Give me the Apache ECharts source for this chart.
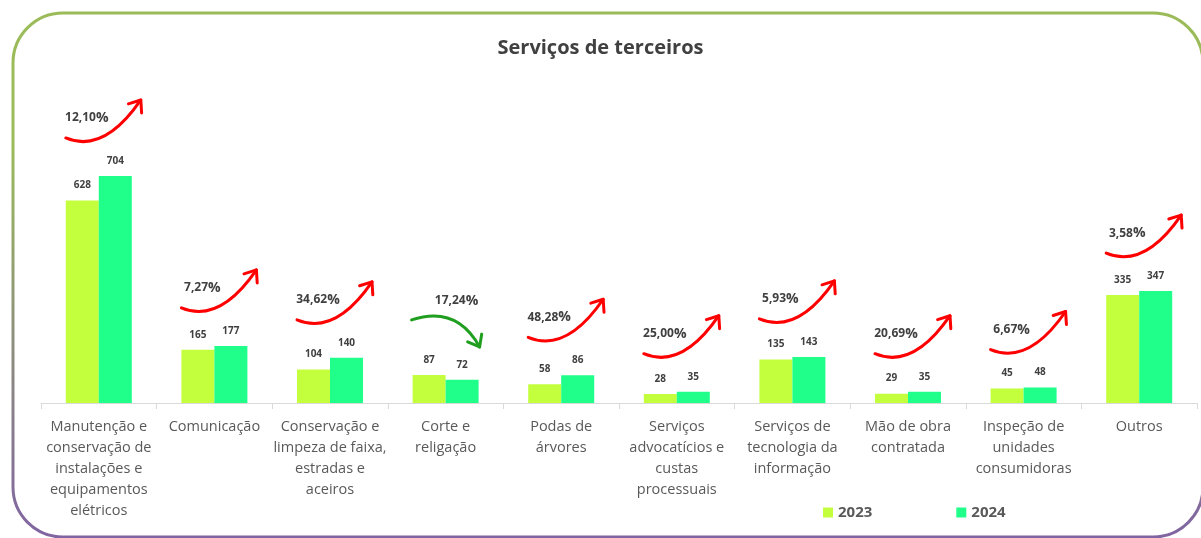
<!DOCTYPE html>
<html>
<head>
<meta charset="utf-8">
<script src="https://cdn.jsdelivr.net/npm/echarts@6/dist/echarts.min.js"></script>
<style>
  html, body { margin: 0; padding: 0; background: #fff; }
  #app { width: 1201px; height: 538px; }
</style>
</head>
<body>
<div id="app"></div>
<script>
const categories = [
  'Manutenção e\nconservação de\ninstalações e\nequipamentos\nelétricos',
  'Comunicação',
  'Conservação e\nlimpeza de faixa,\nestradas e\naceiros',
  'Corte e\nreligação',
  'Podas de\nárvores',
  'Serviços\nadvocatícios e\ncustas\nprocessuais',
  'Serviços de\ntecnologia da\ninformação',
  'Mão de obra\ncontratada',
  'Inspeção de\nunidades\nconsumidoras',
  'Outros'
]
const values2023 = [628, 165, 104, 87, 58, 28, 135, 29, 45, 335]
const values2024 = [704, 177, 140, 72, 86, 35, 143, 35, 48, 347]

const app = document.getElementById('app')
const chart = echarts.init(app)

const textDark = '#404040'
const textGray = '#595959'

// variation arrows: one item per category, built from the two series
const arrowData = categories.map((c, i) => [i, Math.max(values2023[i], values2024[i]), values2024[i] / values2023[i] - 1])

function fmtPct (v) {
  return (Math.abs(v) * 100).toFixed(2).replace('.', ',')
}

function arrowHead (ex, ey, dx, dy, color) {
  const len = Math.sqrt(dx * dx + dy * dy)
  const bx = -dx / len
  const by = -dy / len
  const a = 38 * Math.PI / 180
  const L = 13
  const p1 = [ex + L * (bx * Math.cos(a) - by * Math.sin(a)), ey + L * (bx * Math.sin(a) + by * Math.cos(a))]
  const p2 = [ex + L * (bx * Math.cos(-a) - by * Math.sin(-a)), ey + L * (bx * Math.sin(-a) + by * Math.cos(-a))]
  return {
    type: 'polyline',
    shape: { points: [p1, [ex, ey], p2] },
    style: { stroke: color, lineWidth: 3, fill: null, lineJoin: 'round', lineCap: 'round' }
  }
}

function renderArrow (params, api) {
  const top = api.coord([api.value(0), api.value(1)])
  const change = api.value(2)
  const up = change >= 0
  const color = up ? '#FF0000' : '#1F9E1F'
  let sx, sy, cp, end, tx, ty
  if (up) {
    sx = top[0] - 33
    sy = top[1] - 38
    cp = [sx + 38, sy + 16]
    end = [sx + 75, sy - 38]
    tx = sx + 21
    ty = sy - 20
  } else {
    sx = top[0] - 34
    sy = top[1] - 55
    cp = [sx + 45, sy - 15]
    end = [sx + 68, sy + 27]
    tx = sx + 45
    ty = sy - 19
  }
  return {
    type: 'group',
    children: [
      {
        type: 'bezierCurve',
        shape: { x1: sx, y1: sy, cpx1: cp[0], cpy1: cp[1], x2: end[0], y2: end[1] },
        style: { stroke: color, lineWidth: 3, fill: null, lineCap: 'round' }
      },
      arrowHead(end[0], end[1], end[0] - cp[0], end[1] - cp[1], color),
      {
        type: 'text',
        x: tx,
        y: ty,
        style: {
          text: '{n|' + fmtPct(change) + '}{p|%}',
          align: 'center',
          verticalAlign: 'middle',
          rich: {
            n: { fontSize: 12, fontWeight: 'bold', fill: textDark, fontFamily: 'Open Sans' },
            p: { fontSize: 14, fontWeight: 'bold', fill: textDark, fontFamily: 'Open Sans' }
          }
        }
      }
    ]
  }
}

const barLabel = {
  show: true,
  position: 'top',
  distance: 10,
  fontSize: 10,
  fontWeight: 'bold',
  color: textDark,
  fontFamily: 'Open Sans'
}

chart.setOption({
  animation: false,
  backgroundColor: '#fff',
  title: {
    text: 'Serviços de terceiros',
    left: 'center',
    top: 33,
    textStyle: {
      color: textDark,
      fontSize: 20,
      fontWeight: 'bold',
      fontFamily: 'Open Sans'
    }
  },
  graphic: [{
    type: 'rect',
    shape: { x: 13, y: 13, width: 1190, height: 524, r: 50 },
    style: {
      fill: null,
      lineWidth: 3,
      stroke: {
        type: 'linear',
        x: 0, y: 0, x2: 0, y2: 1,
        colorStops: [
          { offset: 0, color: '#9BBB59' },
          { offset: 0.25, color: '#9BBB59' },
          { offset: 1, color: '#8064A2' }
        ]
      }
    },
    silent: true
  }],
  legend: {
    left: 818,
    top: 500,
    itemWidth: 10,
    itemHeight: 10,
    itemGap: 84,
    icon: 'rect',
    textStyle: {
      color: textGray,
      fontSize: 15,
      fontWeight: 'bold',
      fontFamily: 'Open Sans'
    },
    data: ['2023', '2024']
  },
  grid: {
    left: 41,
    right: 4,
    top: 145,
    bottom: 135
  },
  xAxis: {
    type: 'category',
    data: categories,
    axisLine: { lineStyle: { color: '#D9D9D9', width: 1 } },
    axisTick: { show: true, length: 6, lineStyle: { color: '#D9D9D9' } },
    axisLabel: {
      interval: 0,
      margin: 13,
      color: textGray,
      fontSize: 14.5,
      lineHeight: 21,
      fontFamily: 'Open Sans'
    }
  },
  yAxis: {
    type: 'value',
    min: 0,
    max: 800,
    show: false,
    splitLine: { show: false }
  },
  series: [
    {
      name: '2023',
      type: 'bar',
      data: values2023,
      barWidth: 33,
      barGap: '0%',
      itemStyle: { color: '#C4FF3E' },
      label: barLabel
    },
    {
      name: '2024',
      type: 'bar',
      data: values2024,
      barWidth: 33,
      itemStyle: { color: '#1FFF8A' },
      label: barLabel
    },
    {
      type: 'custom',
      renderItem: renderArrow,
      data: arrowData,
      silent: true,
      z: 5
    }
  ]
})
</script>
</body>
</html>
